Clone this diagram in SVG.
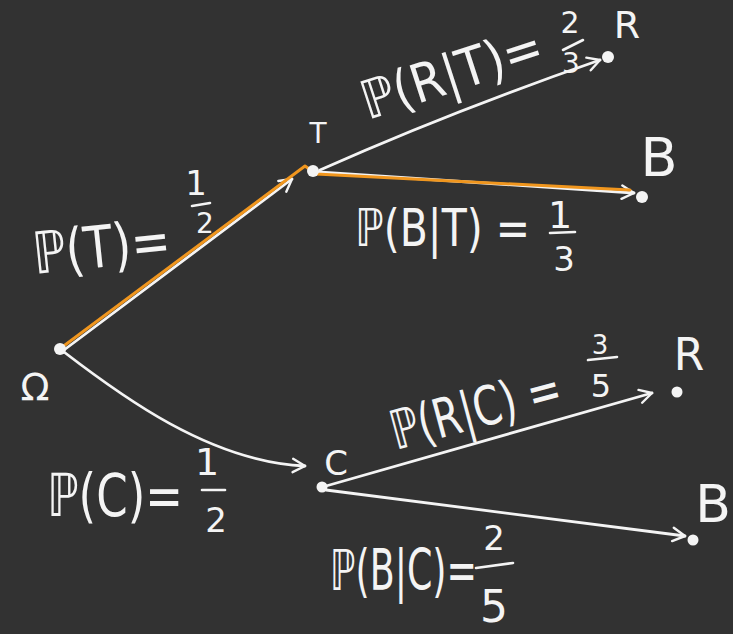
<svg xmlns="http://www.w3.org/2000/svg" width="733" height="634" viewBox="0 0 733 634">
<style>
.t{font-family:"DejaVu Sans","Liberation Sans",sans-serif;fill:#f4f4f4}
.fr{text-anchor:middle}
.nl{text-anchor:middle}
.e{fill:none;stroke:#f4f4f4;stroke-width:2.8;stroke-linecap:round}
.o{fill:none;stroke:#f0961e;stroke-width:3;stroke-linecap:round;stroke-linejoin:round}
.bar{stroke:#f4f4f4;stroke-width:2.6;stroke-linecap:round}
.dot{fill:#f4f4f4}
</style>
<defs>
<marker id="arr" viewBox="0 0 14 14" refX="12" refY="7" markerWidth="17" markerHeight="17" markerUnits="userSpaceOnUse" orient="auto">
<path d="M2 1.5 L12 7 L2 12.5" fill="none" stroke="#f4f4f4" stroke-width="2" stroke-linecap="round" stroke-linejoin="round"/>
</marker>
</defs>
<rect width="733" height="634" fill="#323232"/>
<g id="connectors">
<path class="e" d="M64 350 L292 179" marker-end="url(#arr)"/>
<path class="e" d="M64 352 C120 395 210 462 305 466" marker-end="url(#arr)"/>
<path class="e" d="M320 170 Q450 112 600 60" marker-end="url(#arr)"/>
<path class="e" d="M318 172 L634 193" marker-end="url(#arr)"/>
<path class="e" d="M326 486 L652 393" marker-end="url(#arr)"/>
<path class="e" d="M326 490 L685 536" marker-end="url(#arr)"/>
<path class="o" d="M61 348 L305 166 L316 174 L630 190"/>
</g>
<g id="omega"><circle class="dot" cx="60" cy="349" r="6"/><text class="t nl" x="35" y="400" font-size="38">Ω</text></g>
<g id="T"><circle class="dot" cx="313" cy="171" r="6"/><text class="t nl" x="318" y="143" font-size="28">T</text></g>
<g id="C"><circle class="dot" cx="322" cy="487" r="5.5"/><text class="t nl" x="336" y="475" font-size="34">C</text></g>
<g id="R1"><circle class="dot" cx="608" cy="57" r="6"/><text class="t nl" x="627" y="38" font-size="38">R</text></g>
<g id="B1"><circle class="dot" cx="642" cy="197" r="6"/><text class="t nl" x="659" y="176" font-size="54">B</text></g>
<g id="R2"><circle class="dot" cx="677" cy="392" r="5.5"/><text class="t nl" x="689" y="370" font-size="44">R</text></g>
<g id="B2"><circle class="dot" cx="693" cy="540" r="5.5"/><text class="t nl" x="713" y="522" font-size="52">B</text></g>
<g id="label-PT">
<text class="t" transform="translate(35 274) rotate(-6) scale(1 1.18)" font-size="49" textLength="138" lengthAdjust="spacingAndGlyphs">ℙ(T)=</text>
<text class="t fr" x="196" y="195" font-size="34">1</text><line class="bar" x1="192" y1="206" x2="210" y2="203"/><text class="t fr" x="205" y="233" font-size="28">2</text>
</g>
<g id="label-PC">
<text class="t" transform="translate(47 516) scale(1 1.28)" font-size="46.5" textLength="136" lengthAdjust="spacingAndGlyphs">ℙ(C)=</text>
<text class="t fr" x="207" y="475" font-size="38">1</text><line class="bar" x1="202" y1="490" x2="225" y2="490"/><text class="t fr" x="216" y="532" font-size="34">2</text>
</g>
<g id="label-PRT">
<text class="t" transform="translate(368 120) rotate(-18) scale(1 1.1)" font-size="48.5" textLength="188" lengthAdjust="spacingAndGlyphs">ℙ(R|T)=</text>
<text class="t fr" x="570" y="33" font-size="30">2</text><line class="bar" x1="563" y1="50" x2="583" y2="40"/><text class="t fr" x="571" y="73" font-size="28">3</text>
</g>
<g id="label-PBT">
<text class="t" transform="translate(355 246) scale(1 1.16)" font-size="45" textLength="175" lengthAdjust="spacingAndGlyphs">ℙ(B|T) =</text>
<text class="t fr" x="560" y="228" font-size="38">1</text><line class="bar" x1="550" y1="233" x2="575" y2="232"/><text class="t fr" x="564" y="271" font-size="34">3</text>
</g>
<g id="label-PRC">
<text class="t" transform="translate(396 450) rotate(-15) scale(1 1.23)" font-size="44" textLength="175" lengthAdjust="spacingAndGlyphs">ℙ(R|C) =</text>
<text class="t fr" x="600" y="354" font-size="26">3</text><line class="bar" x1="588" y1="360" x2="617" y2="357"/><text class="t fr" x="601" y="397" font-size="32">5</text>
</g>
<g id="label-PBC">
<text class="t" transform="translate(330 590) scale(1 1.5)" font-size="37.4" textLength="147" lengthAdjust="spacingAndGlyphs">ℙ(B|C)=</text>
<text class="t fr" x="494" y="550" font-size="34">2</text><line class="bar" x1="476" y1="568" x2="513" y2="563"/><text class="t fr" x="494" y="622" font-size="44">5</text>
</g>
</svg>
